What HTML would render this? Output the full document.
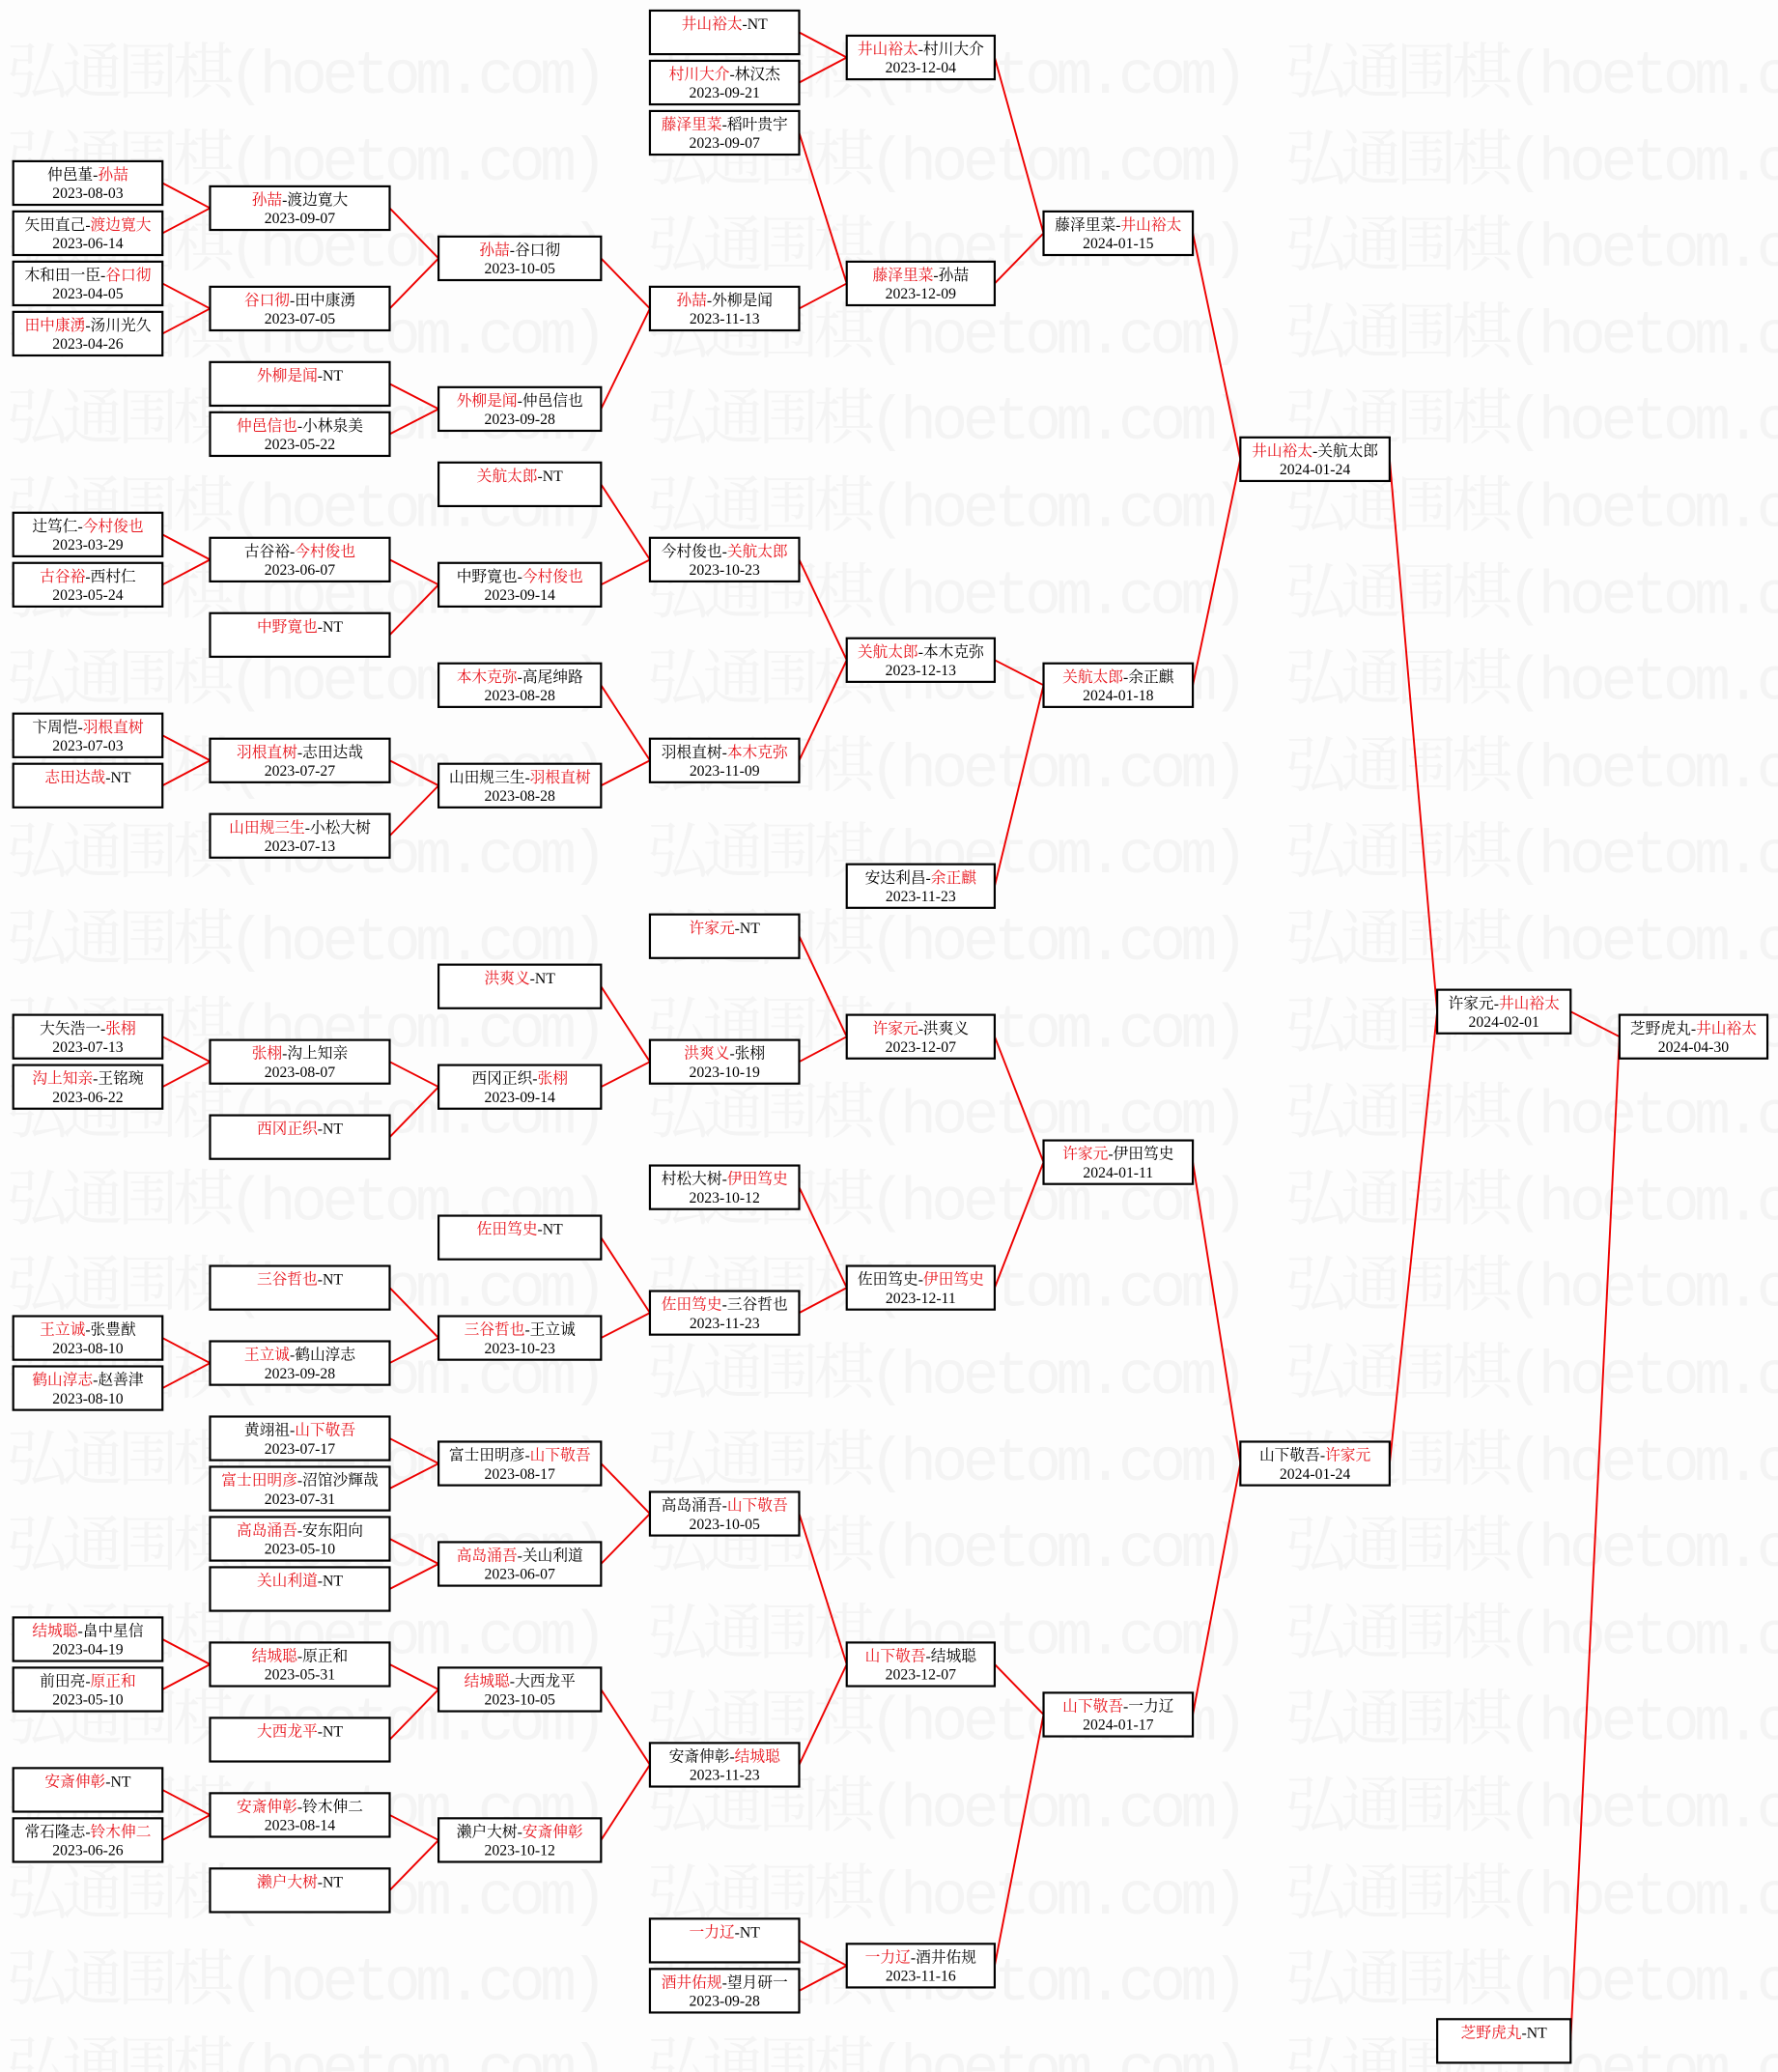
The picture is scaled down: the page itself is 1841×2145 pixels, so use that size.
<!DOCTYPE html>
<html><head><meta charset="utf-8"><style>
html,body{margin:0;padding:0;background:#fff;}
svg{display:block;}
.b rect{fill:#fff;stroke:#000;stroke-width:1.6;}
.b text{font-family:"Liberation Serif","Noto Serif CJK SC",serif;font-size:11.5px;text-anchor:middle;fill:#000;}
.r{fill:#e8141c;}
.wm{font-family:"Liberation Mono","Noto Serif CJK SC",serif;font-size:46px;fill:#f4f4f4;}
line{stroke:#e00;stroke-width:1.4;}
</style></head><body>
<svg width="1841" height="2145" viewBox="0 0 1346 1568" preserveAspectRatio="none" xmlns="http://www.w3.org/2000/svg">
<rect width="1346" height="1568" fill="#fdfdfd"/>
<g class="wm">
<text x="5" y="70" textLength="455">弘通围棋(hoetom.com)</text><text x="490" y="70" textLength="455">弘通围棋(hoetom.com)</text><text x="973" y="70" textLength="455">弘通围棋(hoetom.com)</text>
<text x="5" y="136" textLength="455">弘通围棋(hoetom.com)</text><text x="490" y="136" textLength="455">弘通围棋(hoetom.com)</text><text x="973" y="136" textLength="455">弘通围棋(hoetom.com)</text>
<text x="5" y="201" textLength="455">弘通围棋(hoetom.com)</text><text x="490" y="201" textLength="455">弘通围棋(hoetom.com)</text><text x="973" y="201" textLength="455">弘通围棋(hoetom.com)</text>
<text x="5" y="267" textLength="455">弘通围棋(hoetom.com)</text><text x="490" y="267" textLength="455">弘通围棋(hoetom.com)</text><text x="973" y="267" textLength="455">弘通围棋(hoetom.com)</text>
<text x="5" y="332" textLength="455">弘通围棋(hoetom.com)</text><text x="490" y="332" textLength="455">弘通围棋(hoetom.com)</text><text x="973" y="332" textLength="455">弘通围棋(hoetom.com)</text>
<text x="5" y="398" textLength="455">弘通围棋(hoetom.com)</text><text x="490" y="398" textLength="455">弘通围棋(hoetom.com)</text><text x="973" y="398" textLength="455">弘通围棋(hoetom.com)</text>
<text x="5" y="464" textLength="455">弘通围棋(hoetom.com)</text><text x="490" y="464" textLength="455">弘通围棋(hoetom.com)</text><text x="973" y="464" textLength="455">弘通围棋(hoetom.com)</text>
<text x="5" y="529" textLength="455">弘通围棋(hoetom.com)</text><text x="490" y="529" textLength="455">弘通围棋(hoetom.com)</text><text x="973" y="529" textLength="455">弘通围棋(hoetom.com)</text>
<text x="5" y="595" textLength="455">弘通围棋(hoetom.com)</text><text x="490" y="595" textLength="455">弘通围棋(hoetom.com)</text><text x="973" y="595" textLength="455">弘通围棋(hoetom.com)</text>
<text x="5" y="660" textLength="455">弘通围棋(hoetom.com)</text><text x="490" y="660" textLength="455">弘通围棋(hoetom.com)</text><text x="973" y="660" textLength="455">弘通围棋(hoetom.com)</text>
<text x="5" y="726" textLength="455">弘通围棋(hoetom.com)</text><text x="490" y="726" textLength="455">弘通围棋(hoetom.com)</text><text x="973" y="726" textLength="455">弘通围棋(hoetom.com)</text>
<text x="5" y="792" textLength="455">弘通围棋(hoetom.com)</text><text x="490" y="792" textLength="455">弘通围棋(hoetom.com)</text><text x="973" y="792" textLength="455">弘通围棋(hoetom.com)</text>
<text x="5" y="857" textLength="455">弘通围棋(hoetom.com)</text><text x="490" y="857" textLength="455">弘通围棋(hoetom.com)</text><text x="973" y="857" textLength="455">弘通围棋(hoetom.com)</text>
<text x="5" y="923" textLength="455">弘通围棋(hoetom.com)</text><text x="490" y="923" textLength="455">弘通围棋(hoetom.com)</text><text x="973" y="923" textLength="455">弘通围棋(hoetom.com)</text>
<text x="5" y="988" textLength="455">弘通围棋(hoetom.com)</text><text x="490" y="988" textLength="455">弘通围棋(hoetom.com)</text><text x="973" y="988" textLength="455">弘通围棋(hoetom.com)</text>
<text x="5" y="1054" textLength="455">弘通围棋(hoetom.com)</text><text x="490" y="1054" textLength="455">弘通围棋(hoetom.com)</text><text x="973" y="1054" textLength="455">弘通围棋(hoetom.com)</text>
<text x="5" y="1120" textLength="455">弘通围棋(hoetom.com)</text><text x="490" y="1120" textLength="455">弘通围棋(hoetom.com)</text><text x="973" y="1120" textLength="455">弘通围棋(hoetom.com)</text>
<text x="5" y="1185" textLength="455">弘通围棋(hoetom.com)</text><text x="490" y="1185" textLength="455">弘通围棋(hoetom.com)</text><text x="973" y="1185" textLength="455">弘通围棋(hoetom.com)</text>
<text x="5" y="1251" textLength="455">弘通围棋(hoetom.com)</text><text x="490" y="1251" textLength="455">弘通围棋(hoetom.com)</text><text x="973" y="1251" textLength="455">弘通围棋(hoetom.com)</text>
<text x="5" y="1316" textLength="455">弘通围棋(hoetom.com)</text><text x="490" y="1316" textLength="455">弘通围棋(hoetom.com)</text><text x="973" y="1316" textLength="455">弘通围棋(hoetom.com)</text>
<text x="5" y="1382" textLength="455">弘通围棋(hoetom.com)</text><text x="490" y="1382" textLength="455">弘通围棋(hoetom.com)</text><text x="973" y="1382" textLength="455">弘通围棋(hoetom.com)</text>
<text x="5" y="1448" textLength="455">弘通围棋(hoetom.com)</text><text x="490" y="1448" textLength="455">弘通围棋(hoetom.com)</text><text x="973" y="1448" textLength="455">弘通围棋(hoetom.com)</text>
<text x="5" y="1513" textLength="455">弘通围棋(hoetom.com)</text><text x="490" y="1513" textLength="455">弘通围棋(hoetom.com)</text><text x="973" y="1513" textLength="455">弘通围棋(hoetom.com)</text>
<text x="5" y="1579" textLength="455">弘通围棋(hoetom.com)</text><text x="490" y="1579" textLength="455">弘通围棋(hoetom.com)</text><text x="973" y="1579" textLength="455">弘通围棋(hoetom.com)</text>
</g>

<line x1="123" y1="138.5" x2="159" y2="157.5"/><line x1="123" y1="176.5" x2="159" y2="157.5"/>
<line x1="123" y1="214.5" x2="159" y2="233.5"/><line x1="123" y1="252.5" x2="159" y2="233.5"/>
<line x1="123" y1="404.5" x2="159" y2="423.5"/><line x1="123" y1="442.5" x2="159" y2="423.5"/>
<line x1="123" y1="556.5" x2="159" y2="575.5"/><line x1="123" y1="594.5" x2="159" y2="575.5"/>
<line x1="123" y1="784.5" x2="159" y2="803.5"/><line x1="123" y1="822.5" x2="159" y2="803.5"/>
<line x1="123" y1="1012.5" x2="159" y2="1031.5"/><line x1="123" y1="1050.5" x2="159" y2="1031.5"/>
<line x1="123" y1="1240.5" x2="159" y2="1259.5"/><line x1="123" y1="1278.5" x2="159" y2="1259.5"/>
<line x1="123" y1="1354.5" x2="159" y2="1373.5"/><line x1="123" y1="1392.5" x2="159" y2="1373.5"/>
<line x1="295" y1="157.5" x2="332" y2="195.5"/><line x1="295" y1="233.5" x2="332" y2="195.5"/>
<line x1="295" y1="290.5" x2="332" y2="309.5"/><line x1="295" y1="328.5" x2="332" y2="309.5"/>
<line x1="295" y1="423.5" x2="332" y2="442.5"/><line x1="295" y1="480.5" x2="332" y2="442.5"/>
<line x1="295" y1="575.5" x2="332" y2="594.5"/><line x1="295" y1="632.5" x2="332" y2="594.5"/>
<line x1="295" y1="803.5" x2="332" y2="822.5"/><line x1="295" y1="860.5" x2="332" y2="822.5"/>
<line x1="295" y1="974.5" x2="332" y2="1012.5"/><line x1="295" y1="1031.5" x2="332" y2="1012.5"/>
<line x1="295" y1="1088.5" x2="332" y2="1107.5"/><line x1="295" y1="1126.5" x2="332" y2="1107.5"/>
<line x1="295" y1="1164.5" x2="332" y2="1183.5"/><line x1="295" y1="1202.5" x2="332" y2="1183.5"/>
<line x1="295" y1="1259.5" x2="332" y2="1278.5"/><line x1="295" y1="1316.5" x2="332" y2="1278.5"/>
<line x1="295" y1="1373.5" x2="332" y2="1392.5"/><line x1="295" y1="1430.5" x2="332" y2="1392.5"/>
<line x1="455" y1="195.5" x2="492" y2="233.5"/><line x1="455" y1="309.5" x2="492" y2="233.5"/>
<line x1="455" y1="366.5" x2="492" y2="423.5"/><line x1="455" y1="442.5" x2="492" y2="423.5"/>
<line x1="455" y1="518.5" x2="492" y2="575.5"/><line x1="455" y1="594.5" x2="492" y2="575.5"/>
<line x1="455" y1="746.5" x2="492" y2="803.5"/><line x1="455" y1="822.5" x2="492" y2="803.5"/>
<line x1="455" y1="936.5" x2="492" y2="993.5"/><line x1="455" y1="1012.5" x2="492" y2="993.5"/>
<line x1="455" y1="1107.5" x2="492" y2="1145.5"/><line x1="455" y1="1183.5" x2="492" y2="1145.5"/>
<line x1="455" y1="1278.5" x2="492" y2="1335.5"/><line x1="455" y1="1392.5" x2="492" y2="1335.5"/>
<line x1="605" y1="24.5" x2="641" y2="43.5"/><line x1="605" y1="62.5" x2="641" y2="43.5"/>
<line x1="605" y1="100.5" x2="641" y2="214.5"/><line x1="605" y1="233.5" x2="641" y2="214.5"/>
<line x1="605" y1="423.5" x2="641" y2="499.5"/><line x1="605" y1="575.5" x2="641" y2="499.5"/>
<line x1="605" y1="708.5" x2="641" y2="784.5"/><line x1="605" y1="803.5" x2="641" y2="784.5"/>
<line x1="605" y1="898.5" x2="641" y2="974.5"/><line x1="605" y1="993.5" x2="641" y2="974.5"/>
<line x1="605" y1="1145.5" x2="641" y2="1259.5"/><line x1="605" y1="1335.5" x2="641" y2="1259.5"/>
<line x1="605" y1="1468.5" x2="641" y2="1487.5"/><line x1="605" y1="1506.5" x2="641" y2="1487.5"/>
<line x1="753" y1="43.5" x2="790" y2="176.5"/><line x1="753" y1="214.5" x2="790" y2="176.5"/>
<line x1="753" y1="499.5" x2="790" y2="518.5"/><line x1="753" y1="670.5" x2="790" y2="518.5"/>
<line x1="753" y1="784.5" x2="790" y2="879.5"/><line x1="753" y1="974.5" x2="790" y2="879.5"/>
<line x1="753" y1="1259.5" x2="790" y2="1297.5"/><line x1="753" y1="1487.5" x2="790" y2="1297.5"/>
<line x1="903" y1="176.5" x2="939" y2="347.5"/><line x1="903" y1="518.5" x2="939" y2="347.5"/>
<line x1="903" y1="879.5" x2="939" y2="1107.5"/><line x1="903" y1="1297.5" x2="939" y2="1107.5"/>
<line x1="1052" y1="347.5" x2="1088" y2="765.5"/><line x1="1052" y1="1107.5" x2="1088" y2="765.5"/>
<line x1="1189" y1="765.5" x2="1226" y2="784.5"/><line x1="1189" y1="1544.5" x2="1226" y2="784.5"/>

<g class="b" transform="translate(10,122)"><rect width="113" height="33"/><text x="56.5" y="14">仲邑堇-<tspan class="r">孙喆</tspan></text><text x="56.5" y="28">2023-08-03</text></g>
<g class="b" transform="translate(10,160)"><rect width="113" height="33"/><text x="56.5" y="14">矢田直己-<tspan class="r">渡边寛大</tspan></text><text x="56.5" y="28">2023-06-14</text></g>
<g class="b" transform="translate(10,198)"><rect width="113" height="33"/><text x="56.5" y="14">木和田一臣-<tspan class="r">谷口彻</tspan></text><text x="56.5" y="28">2023-04-05</text></g>
<g class="b" transform="translate(10,236)"><rect width="113" height="33"/><text x="56.5" y="14"><tspan class="r">田中康湧</tspan>-汤川光久</text><text x="56.5" y="28">2023-04-26</text></g>
<g class="b" transform="translate(10,388)"><rect width="113" height="33"/><text x="56.5" y="14">辻笃仁-<tspan class="r">今村俊也</tspan></text><text x="56.5" y="28">2023-03-29</text></g>
<g class="b" transform="translate(10,426)"><rect width="113" height="33"/><text x="56.5" y="14"><tspan class="r">古谷裕</tspan>-西村仁</text><text x="56.5" y="28">2023-05-24</text></g>
<g class="b" transform="translate(10,540)"><rect width="113" height="33"/><text x="56.5" y="14">卞周恺-<tspan class="r">羽根直树</tspan></text><text x="56.5" y="28">2023-07-03</text></g>
<g class="b" transform="translate(10,578)"><rect width="113" height="33"/><text x="56.5" y="14"><tspan class="r">志田达哉</tspan>-NT</text></g>
<g class="b" transform="translate(10,768)"><rect width="113" height="33"/><text x="56.5" y="14">大矢浩一-<tspan class="r">张栩</tspan></text><text x="56.5" y="28">2023-07-13</text></g>
<g class="b" transform="translate(10,806)"><rect width="113" height="33"/><text x="56.5" y="14"><tspan class="r">沟上知亲</tspan>-王铭琬</text><text x="56.5" y="28">2023-06-22</text></g>
<g class="b" transform="translate(10,996)"><rect width="113" height="33"/><text x="56.5" y="14"><tspan class="r">王立诚</tspan>-张豊猷</text><text x="56.5" y="28">2023-08-10</text></g>
<g class="b" transform="translate(10,1034)"><rect width="113" height="33"/><text x="56.5" y="14"><tspan class="r">鹤山淳志</tspan>-赵善津</text><text x="56.5" y="28">2023-08-10</text></g>
<g class="b" transform="translate(10,1224)"><rect width="113" height="33"/><text x="56.5" y="14"><tspan class="r">结城聪</tspan>-畠中星信</text><text x="56.5" y="28">2023-04-19</text></g>
<g class="b" transform="translate(10,1262)"><rect width="113" height="33"/><text x="56.5" y="14">前田亮-<tspan class="r">原正和</tspan></text><text x="56.5" y="28">2023-05-10</text></g>
<g class="b" transform="translate(10,1338)"><rect width="113" height="33"/><text x="56.5" y="14"><tspan class="r">安斎伸彰</tspan>-NT</text></g>
<g class="b" transform="translate(10,1376)"><rect width="113" height="33"/><text x="56.5" y="14">常石隆志-<tspan class="r">铃木伸二</tspan></text><text x="56.5" y="28">2023-06-26</text></g>

<g class="b" transform="translate(159,141)"><rect width="136" height="33"/><text x="68" y="14"><tspan class="r">孙喆</tspan>-渡边寛大</text><text x="68" y="28">2023-09-07</text></g>
<g class="b" transform="translate(159,217)"><rect width="136" height="33"/><text x="68" y="14"><tspan class="r">谷口彻</tspan>-田中康湧</text><text x="68" y="28">2023-07-05</text></g>
<g class="b" transform="translate(159,274)"><rect width="136" height="33"/><text x="68" y="14"><tspan class="r">外柳是闻</tspan>-NT</text></g>
<g class="b" transform="translate(159,312)"><rect width="136" height="33"/><text x="68" y="14"><tspan class="r">仲邑信也</tspan>-小林泉美</text><text x="68" y="28">2023-05-22</text></g>
<g class="b" transform="translate(159,407)"><rect width="136" height="33"/><text x="68" y="14">古谷裕-<tspan class="r">今村俊也</tspan></text><text x="68" y="28">2023-06-07</text></g>
<g class="b" transform="translate(159,464)"><rect width="136" height="33"/><text x="68" y="14"><tspan class="r">中野寛也</tspan>-NT</text></g>
<g class="b" transform="translate(159,559)"><rect width="136" height="33"/><text x="68" y="14"><tspan class="r">羽根直树</tspan>-志田达哉</text><text x="68" y="28">2023-07-27</text></g>
<g class="b" transform="translate(159,616)"><rect width="136" height="33"/><text x="68" y="14"><tspan class="r">山田规三生</tspan>-小松大树</text><text x="68" y="28">2023-07-13</text></g>
<g class="b" transform="translate(159,787)"><rect width="136" height="33"/><text x="68" y="14"><tspan class="r">张栩</tspan>-沟上知亲</text><text x="68" y="28">2023-08-07</text></g>
<g class="b" transform="translate(159,844)"><rect width="136" height="33"/><text x="68" y="14"><tspan class="r">西冈正织</tspan>-NT</text></g>
<g class="b" transform="translate(159,958)"><rect width="136" height="33"/><text x="68" y="14"><tspan class="r">三谷哲也</tspan>-NT</text></g>
<g class="b" transform="translate(159,1015)"><rect width="136" height="33"/><text x="68" y="14"><tspan class="r">王立诚</tspan>-鹤山淳志</text><text x="68" y="28">2023-09-28</text></g>
<g class="b" transform="translate(159,1072)"><rect width="136" height="33"/><text x="68" y="14">黄翊祖-<tspan class="r">山下敬吾</tspan></text><text x="68" y="28">2023-07-17</text></g>
<g class="b" transform="translate(159,1110)"><rect width="136" height="33"/><text x="68" y="14"><tspan class="r">富士田明彦</tspan>-沼馆沙輝哉</text><text x="68" y="28">2023-07-31</text></g>
<g class="b" transform="translate(159,1148)"><rect width="136" height="33"/><text x="68" y="14"><tspan class="r">高岛涌吾</tspan>-安东阳向</text><text x="68" y="28">2023-05-10</text></g>
<g class="b" transform="translate(159,1186)"><rect width="136" height="33"/><text x="68" y="14"><tspan class="r">关山利道</tspan>-NT</text></g>
<g class="b" transform="translate(159,1243)"><rect width="136" height="33"/><text x="68" y="14"><tspan class="r">结城聪</tspan>-原正和</text><text x="68" y="28">2023-05-31</text></g>
<g class="b" transform="translate(159,1300)"><rect width="136" height="33"/><text x="68" y="14"><tspan class="r">大西龙平</tspan>-NT</text></g>
<g class="b" transform="translate(159,1357)"><rect width="136" height="33"/><text x="68" y="14"><tspan class="r">安斎伸彰</tspan>-铃木伸二</text><text x="68" y="28">2023-08-14</text></g>
<g class="b" transform="translate(159,1414)"><rect width="136" height="33"/><text x="68" y="14"><tspan class="r">濑户大树</tspan>-NT</text></g>

<g class="b" transform="translate(332,179)"><rect width="123" height="33"/><text x="61.5" y="14"><tspan class="r">孙喆</tspan>-谷口彻</text><text x="61.5" y="28">2023-10-05</text></g>
<g class="b" transform="translate(332,293)"><rect width="123" height="33"/><text x="61.5" y="14"><tspan class="r">外柳是闻</tspan>-仲邑信也</text><text x="61.5" y="28">2023-09-28</text></g>
<g class="b" transform="translate(332,350)"><rect width="123" height="33"/><text x="61.5" y="14"><tspan class="r">关航太郎</tspan>-NT</text></g>
<g class="b" transform="translate(332,426)"><rect width="123" height="33"/><text x="61.5" y="14">中野寛也-<tspan class="r">今村俊也</tspan></text><text x="61.5" y="28">2023-09-14</text></g>
<g class="b" transform="translate(332,502)"><rect width="123" height="33"/><text x="61.5" y="14"><tspan class="r">本木克弥</tspan>-高尾绅路</text><text x="61.5" y="28">2023-08-28</text></g>
<g class="b" transform="translate(332,578)"><rect width="123" height="33"/><text x="61.5" y="14">山田规三生-<tspan class="r">羽根直树</tspan></text><text x="61.5" y="28">2023-08-28</text></g>
<g class="b" transform="translate(332,730)"><rect width="123" height="33"/><text x="61.5" y="14"><tspan class="r">洪爽义</tspan>-NT</text></g>
<g class="b" transform="translate(332,806)"><rect width="123" height="33"/><text x="61.5" y="14">西冈正织-<tspan class="r">张栩</tspan></text><text x="61.5" y="28">2023-09-14</text></g>
<g class="b" transform="translate(332,920)"><rect width="123" height="33"/><text x="61.5" y="14"><tspan class="r">佐田笃史</tspan>-NT</text></g>
<g class="b" transform="translate(332,996)"><rect width="123" height="33"/><text x="61.5" y="14"><tspan class="r">三谷哲也</tspan>-王立诚</text><text x="61.5" y="28">2023-10-23</text></g>
<g class="b" transform="translate(332,1091)"><rect width="123" height="33"/><text x="61.5" y="14">富士田明彦-<tspan class="r">山下敬吾</tspan></text><text x="61.5" y="28">2023-08-17</text></g>
<g class="b" transform="translate(332,1167)"><rect width="123" height="33"/><text x="61.5" y="14"><tspan class="r">高岛涌吾</tspan>-关山利道</text><text x="61.5" y="28">2023-06-07</text></g>
<g class="b" transform="translate(332,1262)"><rect width="123" height="33"/><text x="61.5" y="14"><tspan class="r">结城聪</tspan>-大西龙平</text><text x="61.5" y="28">2023-10-05</text></g>
<g class="b" transform="translate(332,1376)"><rect width="123" height="33"/><text x="61.5" y="14">濑户大树-<tspan class="r">安斎伸彰</tspan></text><text x="61.5" y="28">2023-10-12</text></g>

<g class="b" transform="translate(492,8)"><rect width="113" height="33"/><text x="56.5" y="14"><tspan class="r">井山裕太</tspan>-NT</text></g>
<g class="b" transform="translate(492,46)"><rect width="113" height="33"/><text x="56.5" y="14"><tspan class="r">村川大介</tspan>-林汉杰</text><text x="56.5" y="28">2023-09-21</text></g>
<g class="b" transform="translate(492,84)"><rect width="113" height="33"/><text x="56.5" y="14"><tspan class="r">藤泽里菜</tspan>-稻叶贵宇</text><text x="56.5" y="28">2023-09-07</text></g>
<g class="b" transform="translate(492,217)"><rect width="113" height="33"/><text x="56.5" y="14"><tspan class="r">孙喆</tspan>-外柳是闻</text><text x="56.5" y="28">2023-11-13</text></g>
<g class="b" transform="translate(492,407)"><rect width="113" height="33"/><text x="56.5" y="14">今村俊也-<tspan class="r">关航太郎</tspan></text><text x="56.5" y="28">2023-10-23</text></g>
<g class="b" transform="translate(492,559)"><rect width="113" height="33"/><text x="56.5" y="14">羽根直树-<tspan class="r">本木克弥</tspan></text><text x="56.5" y="28">2023-11-09</text></g>
<g class="b" transform="translate(492,692)"><rect width="113" height="33"/><text x="56.5" y="14"><tspan class="r">许家元</tspan>-NT</text></g>
<g class="b" transform="translate(492,787)"><rect width="113" height="33"/><text x="56.5" y="14"><tspan class="r">洪爽义</tspan>-张栩</text><text x="56.5" y="28">2023-10-19</text></g>
<g class="b" transform="translate(492,882)"><rect width="113" height="33"/><text x="56.5" y="14">村松大树-<tspan class="r">伊田笃史</tspan></text><text x="56.5" y="28">2023-10-12</text></g>
<g class="b" transform="translate(492,977)"><rect width="113" height="33"/><text x="56.5" y="14"><tspan class="r">佐田笃史</tspan>-三谷哲也</text><text x="56.5" y="28">2023-11-23</text></g>
<g class="b" transform="translate(492,1129)"><rect width="113" height="33"/><text x="56.5" y="14">高岛涌吾-<tspan class="r">山下敬吾</tspan></text><text x="56.5" y="28">2023-10-05</text></g>
<g class="b" transform="translate(492,1319)"><rect width="113" height="33"/><text x="56.5" y="14">安斎伸彰-<tspan class="r">结城聪</tspan></text><text x="56.5" y="28">2023-11-23</text></g>
<g class="b" transform="translate(492,1452)"><rect width="113" height="33"/><text x="56.5" y="14"><tspan class="r">一力辽</tspan>-NT</text></g>
<g class="b" transform="translate(492,1490)"><rect width="113" height="33"/><text x="56.5" y="14"><tspan class="r">酒井佑规</tspan>-望月研一</text><text x="56.5" y="28">2023-09-28</text></g>

<g class="b" transform="translate(641,27)"><rect width="112" height="33"/><text x="56" y="14"><tspan class="r">井山裕太</tspan>-村川大介</text><text x="56" y="28">2023-12-04</text></g>
<g class="b" transform="translate(641,198)"><rect width="112" height="33"/><text x="56" y="14"><tspan class="r">藤泽里菜</tspan>-孙喆</text><text x="56" y="28">2023-12-09</text></g>
<g class="b" transform="translate(641,483)"><rect width="112" height="33"/><text x="56" y="14"><tspan class="r">关航太郎</tspan>-本木克弥</text><text x="56" y="28">2023-12-13</text></g>
<g class="b" transform="translate(641,654)"><rect width="112" height="33"/><text x="56" y="14">安达利昌-<tspan class="r">余正麒</tspan></text><text x="56" y="28">2023-11-23</text></g>
<g class="b" transform="translate(641,768)"><rect width="112" height="33"/><text x="56" y="14"><tspan class="r">许家元</tspan>-洪爽义</text><text x="56" y="28">2023-12-07</text></g>
<g class="b" transform="translate(641,958)"><rect width="112" height="33"/><text x="56" y="14">佐田笃史-<tspan class="r">伊田笃史</tspan></text><text x="56" y="28">2023-12-11</text></g>
<g class="b" transform="translate(641,1243)"><rect width="112" height="33"/><text x="56" y="14"><tspan class="r">山下敬吾</tspan>-结城聪</text><text x="56" y="28">2023-12-07</text></g>
<g class="b" transform="translate(641,1471)"><rect width="112" height="33"/><text x="56" y="14"><tspan class="r">一力辽</tspan>-酒井佑规</text><text x="56" y="28">2023-11-16</text></g>

<g class="b" transform="translate(790,160)"><rect width="113" height="33"/><text x="56.5" y="14">藤泽里菜-<tspan class="r">井山裕太</tspan></text><text x="56.5" y="28">2024-01-15</text></g>
<g class="b" transform="translate(790,502)"><rect width="113" height="33"/><text x="56.5" y="14"><tspan class="r">关航太郎</tspan>-余正麒</text><text x="56.5" y="28">2024-01-18</text></g>
<g class="b" transform="translate(790,863)"><rect width="113" height="33"/><text x="56.5" y="14"><tspan class="r">许家元</tspan>-伊田笃史</text><text x="56.5" y="28">2024-01-11</text></g>
<g class="b" transform="translate(790,1281)"><rect width="113" height="33"/><text x="56.5" y="14"><tspan class="r">山下敬吾</tspan>-一力辽</text><text x="56.5" y="28">2024-01-17</text></g>

<g class="b" transform="translate(939,331)"><rect width="113" height="33"/><text x="56.5" y="14"><tspan class="r">井山裕太</tspan>-关航太郎</text><text x="56.5" y="28">2024-01-24</text></g>
<g class="b" transform="translate(939,1091)"><rect width="113" height="33"/><text x="56.5" y="14">山下敬吾-<tspan class="r">许家元</tspan></text><text x="56.5" y="28">2024-01-24</text></g>

<g class="b" transform="translate(1088,749)"><rect width="101" height="33"/><text x="50.5" y="14">许家元-<tspan class="r">井山裕太</tspan></text><text x="50.5" y="28">2024-02-01</text></g>
<g class="b" transform="translate(1088,1528)"><rect width="101" height="33"/><text x="50.5" y="14"><tspan class="r">芝野虎丸</tspan>-NT</text></g>

<g class="b" transform="translate(1226,768)"><rect width="112" height="33"/><text x="56" y="14">芝野虎丸-<tspan class="r">井山裕太</tspan></text><text x="56" y="28">2024-04-30</text></g>
</svg>
</body></html>
